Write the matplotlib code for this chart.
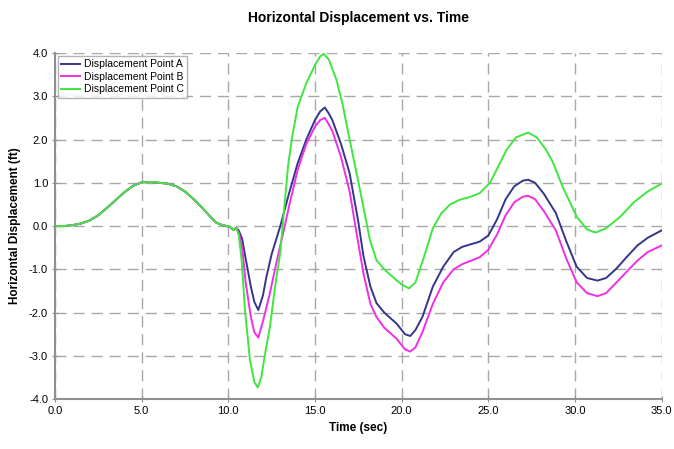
import numpy as np
import matplotlib.pyplot as plt
from matplotlib.ticker import FormatStrFormatter

plt.rcParams['font.family'] = ['Liberation Sans', 'DejaVu Sans']

# shared part of the record (all three points move together up to ~10.4 s)
t_common = [0, 0.5, 1, 1.5, 2, 2.5, 3, 3.5, 4, 4.5, 5, 5.5, 6, 6.5, 7, 7.5,
            8, 8.5, 9, 9.3, 9.6, 9.9, 10.1, 10.3, 10.45]
y_common = [0, 0.0, 0.02, 0.06, 0.13, 0.25, 0.42, 0.6, 0.78, 0.93, 1.01, 1.02,
            1.0, 0.98, 0.92, 0.8, 0.62, 0.42, 0.2, 0.08, 0.03, 0.0, -0.02, -0.09, -0.04]

t_a = [10.6, 10.8, 11.0, 11.3, 11.5, 11.73, 12.0, 12.2, 12.5, 13.0, 13.5, 14.0,
       14.5, 15.0, 15.3, 15.57, 15.8, 16.0, 16.5, 17.0, 17.5, 17.8, 18.2, 18.55,
       19.0, 19.7, 20.2, 20.5, 20.8, 21.2, 21.8, 22.4, 23.0, 23.5, 24.0, 24.5,
       25.0, 25.5, 26.0, 26.5, 27.0, 27.3, 27.7, 28.2, 28.9, 29.5, 30.1, 30.7,
       31.3, 31.8, 32.4, 33.0, 33.6, 34.2, 35.0]
y_a = [-0.1, -0.3, -0.75, -1.4, -1.75, -1.94, -1.6, -1.17, -0.65, 0.0, 0.75, 1.45,
       2.0, 2.45, 2.65, 2.74, 2.6, 2.45, 1.9, 1.22, 0.1, -0.7, -1.4, -1.78,
       -2.0, -2.25, -2.5, -2.54, -2.4, -2.1, -1.4, -0.94, -0.6, -0.48, -0.42, -0.36,
       -0.22, 0.15, 0.62, 0.92, 1.05, 1.07, 1.0, 0.75, 0.3, -0.35, -0.94, -1.2,
       -1.26, -1.2, -0.98, -0.71, -0.45, -0.27, -0.1]

t_b = [10.6, 10.8, 11.0, 11.3, 11.5, 11.73, 12.0, 12.4, 12.8, 13.2, 13.5, 14.0,
       14.5, 15.0, 15.3, 15.57, 15.8, 16.0, 16.5, 17.0, 17.5, 17.8, 18.2, 18.55,
       19.0, 19.7, 20.2, 20.5, 20.8, 21.2, 21.8, 22.4, 23.0, 23.5, 24.0, 24.5,
       25.0, 25.5, 26.0, 26.5, 27.0, 27.3, 27.7, 28.2, 28.9, 29.5, 30.1, 30.7,
       31.3, 31.8, 32.4, 33.0, 33.6, 34.2, 35.0]
y_b = [-0.15, -0.5, -1.3, -2.1, -2.45, -2.58, -2.2, -1.55, -0.8, -0.1, 0.45, 1.3,
       1.9, 2.3, 2.45, 2.5, 2.35, 2.2, 1.6, 0.8, -0.4, -1.1, -1.8, -2.1,
       -2.35, -2.6, -2.85, -2.9, -2.8, -2.45, -1.8, -1.3, -1.0, -0.88, -0.8, -0.72,
       -0.55, -0.2, 0.25, 0.55, 0.68, 0.7, 0.62, 0.35, -0.1, -0.75, -1.3, -1.55,
       -1.62, -1.55, -1.3, -1.05, -0.8, -0.6, -0.45]

t_c = [10.6, 10.77, 10.96, 11.25, 11.5, 11.7, 11.9, 12.1, 12.4, 12.7, 13.0, 13.2,
       13.45, 13.7, 14.0, 14.5, 15.0, 15.3, 15.5, 15.8, 16.24, 16.6, 17.0, 17.6,
       18.17, 18.55, 19.0, 19.7, 20.0, 20.43, 20.8, 21.3, 21.8, 22.3, 22.8, 23.3,
       24.0, 24.5, 25.1, 25.6, 26.05, 26.6, 27.3, 27.8, 28.3, 28.7, 29.3, 30.1,
       30.7, 31.2, 31.8, 32.6, 33.4, 34.2, 35.0]
y_c = [-0.2, -0.79, -1.94, -3.1, -3.6, -3.73, -3.5, -3.0, -2.33, -1.4, -0.6, 0.3,
       1.4, 2.1, 2.75, 3.3, 3.72, 3.92, 3.98, 3.85, 3.38, 2.8, 2.0, 0.83,
       -0.32, -0.79, -1.0, -1.25, -1.35, -1.44, -1.3, -0.7, -0.05, 0.3, 0.5, 0.6,
       0.68, 0.76, 1.0, 1.4, 1.76, 2.05, 2.16, 2.05, 1.78, 1.5, 0.9, 0.22,
       -0.08, -0.15, -0.05, 0.21, 0.55, 0.8, 0.98]

series = [("Displacement Point A", t_a, y_a, "#35358c"),
          ("Displacement Point B", t_b, y_b, "#f02ee6"),
          ("Displacement Point C", t_c, y_c, "#3fe63f")]

fig = plt.figure(figsize=(6.74, 4.49), dpi=100)
ax = fig.add_axes([0.0816, 0.111, 0.9, 0.771])

for name, t, y, col in series:
    ax.plot(t_common + t, y_common + y, color=col, lw=1.4, label=name)

ax.set_xlim(0, 35)
ax.set_ylim(-4, 4)
ax.set_xticks(np.arange(0, 36, 5))
ax.set_yticks(np.arange(-4, 5, 1))
ax.xaxis.set_major_formatter(FormatStrFormatter('%.1f'))
ax.yaxis.set_major_formatter(FormatStrFormatter('%.1f'))
ax.tick_params(labelsize=8, direction='inout', length=4, color='#909090', pad=3)

ax.grid(True, color='#a8a8a8', linestyle=(0, (8, 5)), lw=1)
for s in ['top', 'right']:
    ax.spines[s].set_visible(False)
for s in ['left', 'bottom']:
    ax.spines[s].set_color('#909090')
    ax.spines[s].set_linewidth(1.5)

ax.set_title('Horizontal Displacement vs. Time', fontsize=10, fontweight='bold', pad=22)
ax.set_xlabel('Time (sec)', fontsize=8.5, fontweight='bold')
ax.set_ylabel('Horizontal Displacement (ft)', fontsize=8.5, fontweight='bold', labelpad=6)

leg = ax.legend(loc='upper left', fontsize=7.5, frameon=True,
                fancybox=False, borderaxespad=0.3, handlelength=1.8,
                labelspacing=0.25, borderpad=0.3, handletextpad=0.4)
leg.get_frame().set_edgecolor('#a0a0a0')
leg.get_frame().set_linewidth(1)

plt.savefig('out.png', dpi=100)
